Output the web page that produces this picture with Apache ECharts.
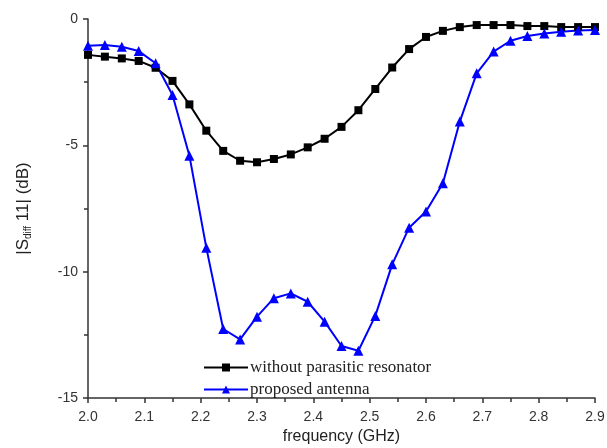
<!DOCTYPE html>
<html><head><meta charset="utf-8">
<script src="https://cdn.jsdelivr.net/npm/echarts@6/dist/echarts.min.js"></script>
<style>html,body{margin:0;padding:0;background:#fff}#c{width:607px;height:448px}</style>
</head><body><div id="c"></div>
<script>
var freq = [2.00,2.03,2.06,2.09,2.12,2.15,2.18,2.21,2.24,2.27,2.30,2.33,2.36,2.39,2.42,2.45,2.48,2.51,2.54,2.57,2.60,2.63,2.66,2.69,2.72,2.75,2.78,2.81,2.84,2.87,2.90];
var withoutParasitic = [-1.42,-1.49,-1.56,-1.66,-1.93,-2.45,-3.38,-4.42,-5.22,-5.61,-5.67,-5.54,-5.36,-5.08,-4.74,-4.27,-3.61,-2.77,-1.92,-1.19,-0.71,-0.47,-0.32,-0.24,-0.24,-0.24,-0.28,-0.28,-0.32,-0.32,-0.32];
var proposed = [-1.06,-1.03,-1.10,-1.27,-1.75,-3.01,-5.41,-9.05,-12.27,-12.68,-11.78,-11.05,-10.86,-11.19,-11.98,-12.94,-13.13,-11.75,-9.71,-8.26,-7.62,-6.50,-4.06,-2.15,-1.29,-0.86,-0.67,-0.57,-0.50,-0.46,-0.44];
var seriesNames = ['without parasitic resonator','proposed antenna'];

function pairs(xs, ys){ return xs.map(function(x,i){ return [x, ys[i]]; }); }

var chart = echarts.init(document.getElementById('c'));
var axisCommon = {
  axisLine:{show:true,onZero:false,lineStyle:{color:'#333',width:1.5}},
  axisTick:{show:true,inside:false,length:5,lineStyle:{color:'#333',width:1.5}},
  minorTick:{show:true,splitNumber:2,length:4,lineStyle:{color:'#333',width:1.5}},
  splitLine:{show:false},
  axisLabel:{color:'#333',fontFamily:'Liberation Sans',fontSize:14}
};
chart.setOption({
  animation:false,
  backgroundColor:'#fff',
  grid:{left:88,right:12,top:19,bottom:50,containLabel:false,outerBoundsMode:'none'},
  legend:{
    orient:'vertical', left:198, top:354, itemWidth:44, itemHeight:10, itemGap:5,
    textStyle:{fontFamily:'Liberation Serif',fontSize:17,color:'#222',padding:[0,0,0,-3]},
    data:seriesNames
  },
  xAxis:Object.assign({}, axisCommon, {
    type:'value', min:2.0, max:2.9, interval:0.1,
    name:'frequency (GHz)', nameLocation:'middle', nameGap:31,
    nameTextStyle:{fontFamily:'Liberation Sans',fontSize:16,color:'#222'},
    axisLabel:Object.assign({}, axisCommon.axisLabel, {formatter:function(v){return v.toFixed(1);}, margin:12})
  }),
  yAxis:Object.assign({}, axisCommon, {
    type:'value', min:-15, max:0, interval:5,
    name:'{a||S}{s|diff}{a| 11| (dB)}', nameLocation:'middle', nameGap:55, nameRotate:90,
    nameTextStyle:{rich:{
      a:{fontFamily:'Liberation Sans',fontSize:17,color:'#222'},
      s:{fontFamily:'Liberation Sans',fontSize:10,color:'#222',verticalAlign:'bottom',padding:[9,0,0,0]}
    }},
    axisLabel:Object.assign({}, axisCommon.axisLabel, {margin:10})
  }),
  series:[
    {name:seriesNames[0], type:'line', data:pairs(freq, withoutParasitic),
     symbol:'rect', symbolSize:8, color:'#000',
     lineStyle:{color:'#000',width:2}, itemStyle:{color:'#000'}},
    {name:seriesNames[1], type:'line', data:pairs(freq, proposed),
     symbol:'triangle', symbolSize:10, color:'#0000ff',
     lineStyle:{color:'#0000ff',width:2}, itemStyle:{color:'#0000ff'}}
  ]
});
</script></body></html>
